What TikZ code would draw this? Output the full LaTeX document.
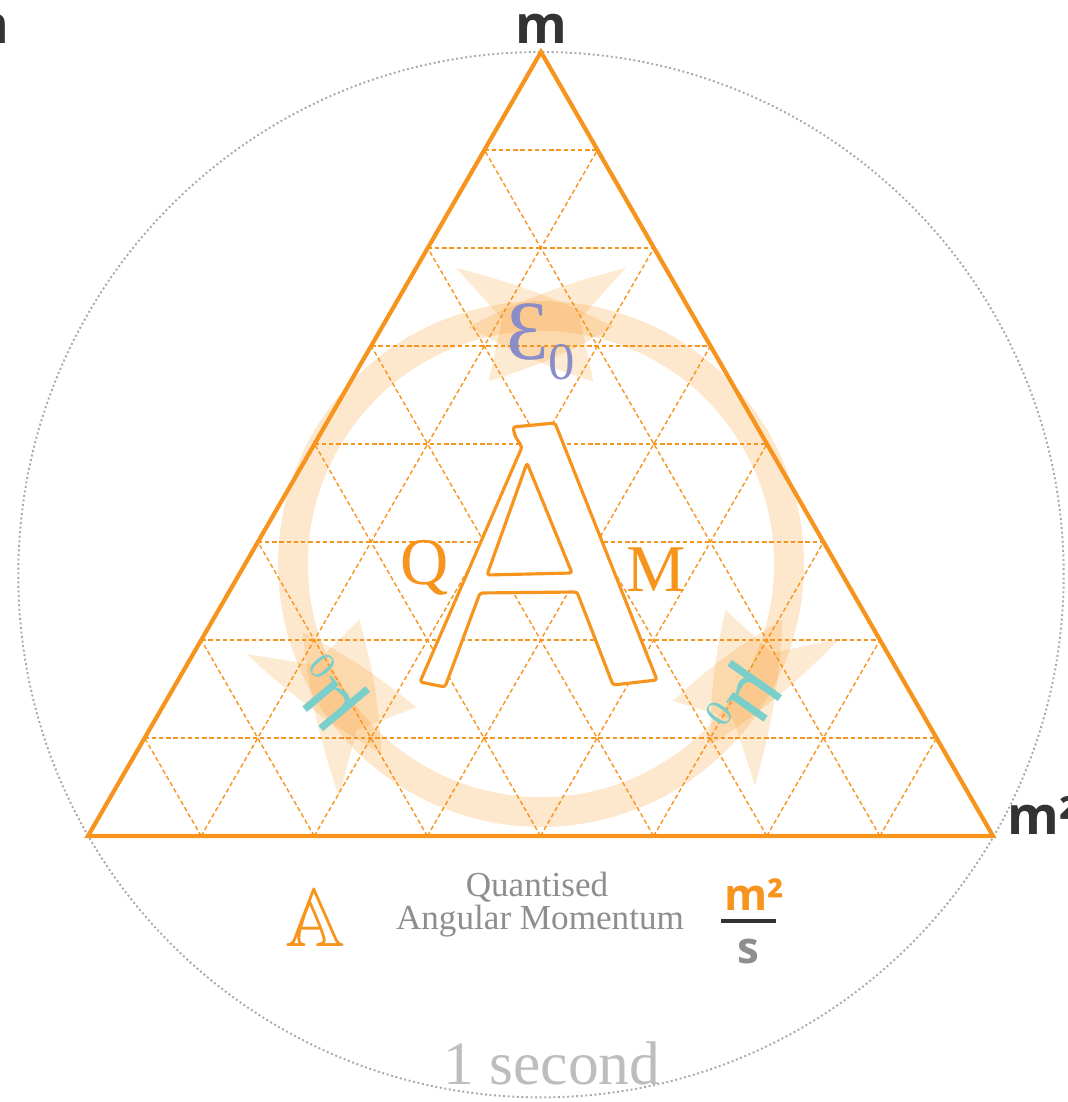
\documentclass[tikz,border=0pt]{standalone}
\usepackage{fontspec}
\usepackage{amssymb}
\setmainfont{Liberation Serif}
\newfontfamily\unitfont{Open Sans}
\usetikzlibrary{positioning,calc}
\definecolor{qamorange}{HTML}{F7941D}
\definecolor{rimgrey}{HTML}{A9A9A9}
\definecolor{textgrey}{HTML}{8E8E8E}
\definecolor{lightgrey}{HTML}{BDBDBD}
\definecolor{inkgrey}{HTML}{333333}
\definecolor{lavender}{HTML}{8B8DC8}
\definecolor{seafoam}{HTML}{7ACFCB}
\tikzset{
  rim/.style={draw=rimgrey, line width=1.1pt, dash pattern=on 1.1pt off 1.5pt},
  edge/.style={draw=qamorange, line width=2.4pt, line join=miter},
  gridline/.style={draw=qamorange, line width=0.8pt, dash pattern=on 2.5pt off 1.6pt},
  orbit/.style={draw=qamorange, line width=17pt, opacity=0.22},
  orbithead/.style={fill=qamorange, opacity=0.2},
  glyph/.style={draw=qamorange, fill=white, line width=1.8pt, line join=round, rounded corners=1.5pt},
  txt/.style={font=\fontsize{#1}{#1}\selectfont, inner sep=0pt},
  unitlbl/.style={font=\unitfont\bfseries\fontsize{30}{30}\selectfont, text=#1, inner sep=0pt},
  unitlbl/.default=inkgrey,
  fraclbl/.style={font=\unitfont\bfseries\fontsize{25}{25}\selectfont, text=#1, inner sep=0pt},
  fracbar/.style={draw=inkgrey, line width=2.2pt},
}
\begin{document}
\begin{tikzpicture}[x=0.02cm, y=0.02cm]
  \useasboundingbox (0,0) rectangle (1068,1102);
  \coordinate (T) at (541,1050);
  \coordinate (L) at (88,266);
  \coordinate (R) at (993,266);
  \coordinate (O) at (541,527.3);
  \coordinate (C) at (541,538);

  % one second
  \draw[rim] (O) circle (522.7);

  % cycle, each head doubled
  \draw[orbit] (C) circle (248);
  \foreach \a in {90,213,330}{
    \fill[orbithead, shift={(C)}] (\a+17:248) to[bend left=6] (\a-16:308)
      -- (\a-9:248) -- (\a-16:190) to[bend left=6] cycle;
    \fill[orbithead, shift={(C)}] (\a-17:248) to[bend right=6] (\a+16:308)
      -- (\a+9:248) -- (\a+16:190) to[bend right=6] cycle;
  }

  % grid
  \foreach \k in {1,...,7}{
    \draw[gridline] ($(L)!\k/8!(T)$) -- ($(R)!\k/8!(T)$);
    \draw[gridline] ($(L)!\k/8!(R)$) -- ($(T)!\k/8!(R)$);
    \draw[gridline] ($(L)!\k/8!(R)$) -- ($(L)!\k/8!(T)$);
  }
  \draw[edge] (T) -- (L) -- (R) -- cycle;

  % big A
  \filldraw[glyph] (513,675) -- (515,666) -- (522,655) -- (420,420) -- (445,415)
    -- (480,509) -- (577,510) -- (613,417) -- (657,422) -- (555,679) -- cycle;
  \draw[glyph] (527,639) -- (487,527) -- (572,529) -- cycle;

  \node[txt=38, text=qamorange, anchor=base] (q) at (425,517) {Q};
  \node[txt=38, text=qamorange, anchor=base] (mm) at (656,510) {M};
  \node[txt=48, text=lavender, anchor=base west] (eps) at (506,742)
    {Ɛ\raisebox{-11pt}{\fontsize{30}{30}\selectfont 0}};
  \node[txt=52, text=seafoam, rotate=130] (mul) at (330,410)
    {μ\raisebox{-7pt}{\fontsize{22}{22}\selectfont 0}};
  \node[txt=52, text=seafoam, rotate=-125] (mur) at (742,402)
    {μ\raisebox{-7pt}{\fontsize{22}{22}\selectfont 0}};

  % legend
  \node[text=qamorange, scale=1.9, inner sep=0pt] (aa) at (315,184)
    {\fontsize{24.88}{24.88}\selectfont$\mathbb{A}$};
  \node[txt=20, text=textgrey, anchor=base] (q1) at (537,205) {Quantised};
  \node[txt=20, text=textgrey, anchor=base] (q2) at (540,172) {Angular Momentum};
  \node[fraclbl=qamorange, anchor=base] (fm) at (754,191) {m²};
  \coordinate (barl) at (721,181);
  \coordinate (barr) at (776,181);
  \draw[fracbar] (barl) -- (barr);
  \node[fraclbl=textgrey, anchor=base] (fs) at (748,138) {s};

  \node[txt=35, text=lightgrey, anchor=base] (sec) at (552,17) {1 second};

  \node[unitlbl, anchor=base] (mtop) at (541,1058) {m};
  \node[unitlbl, anchor=base] (mleft) at (-17,1058) {m};
  \node[unitlbl, anchor=base west] (mright) at (1007,267) {m²};
\end{tikzpicture}
\end{document}
